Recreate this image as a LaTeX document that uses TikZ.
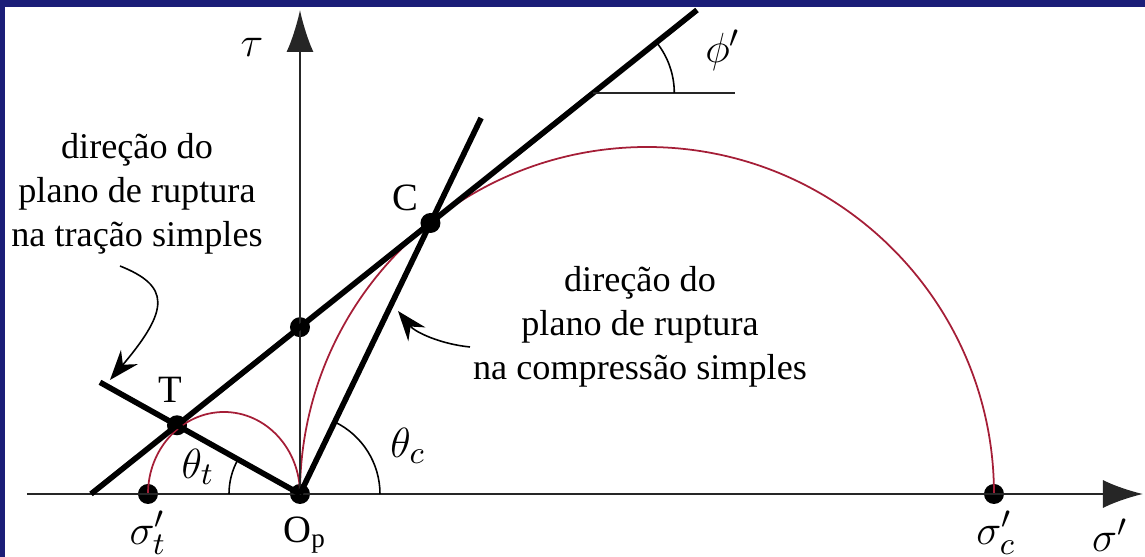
\documentclass[tikz,border=0pt]{standalone}
\usepackage{fontspec}
\setmainfont{Liberation Serif}
\usetikzlibrary{arrows.meta}
\definecolor{framebl}{RGB}{27,30,120}
\definecolor{arcred}{RGB}{165,30,55}
\tikzset{
  axis/.style={line width=0.6pt, black!85},
  envline/.style={line width=1.6pt},
  mohr/.style={arcred, line width=0.5pt},
  angarc/.style={line width=0.45pt},
  kdot/.style={circle, fill, inner sep=0pt, minimum size=2mm},
  lbl/.style={font=\fontsize{11}{13}\selectfont, inner sep=0pt},
  mlbl/.style={font=\fontsize{12.5}{15}\selectfont, inner sep=0pt},
  note/.style={align=center, font=\fontsize{10.3}{12.6}\selectfont},
  pointer/.style={-{Stealth[length=3mm, width=2.2mm, inset=1mm]}, line width=0.45pt},
  axarrow/.style={-{Latex[length=4mm, width=2.8mm]}},
}

\begin{document}
\begin{tikzpicture}
    \useasboundingbox (-3.00,-0.63) rectangle (8.45,4.94);
    \fill[framebl] (-3.00,4.87) rectangle (8.45,4.94);
    \fill[framebl] (-3.00,-0.63) rectangle (-2.95,4.94);
    \coordinate (sx0) at (-2.73,0);
    \coordinate (sx1) at (8.43,0);
    \coordinate (ty1) at (0,4.84);
    \coordinate (envL) at (-2.09,0);
    \coordinate (envR) at (3.97,4.84);
    \coordinate (tEnd) at (-2.00,1.117);
    \coordinate (cEnd) at (1.811,3.76);
    \coordinate (phiO) at (2.933,4.01);
    \coordinate (phiE) at (4.35,4.01);
    \node[kdot] (Op) at (0,0) {};
    \node[kdot] (sigt) at (-1.52,0) {};
    \node[kdot] (sigc) at (6.94,0) {};
    \node[kdot] (Tp) at (-1.23,0.687) {};
    \node[kdot] (Cp) at (1.305,2.71) {};
    \node[kdot] (Ti) at (0,1.668) {};
    \draw[mohr] (sigc.center) arc[start angle=0, end angle=180, radius=3.47];
    \draw[mohr] (Op.center) arc[start angle=0, end angle=180, x radius=0.76, y radius=0.82];
    \draw[axis, axarrow] (sx0) -- (sx1);
    \draw[axis, -{Latex[length=4.2mm, width=2.7mm]}] (Op.center) -- (ty1);
    \draw[envline] (envL) -- (envR);
    \draw[envline] (Op.center) -- (tEnd);
    \draw[envline] (Op.center) -- (cEnd);
    \draw[axis] (phiO) -- (phiE);
    \draw[angarc] (phiO) ++(0:0.81) arc[start angle=0, end angle=38.6, radius=0.81];
    \draw[angarc] (Op.center) ++(180:0.71) arc[start angle=180, end angle=150.8, radius=0.71];
    \draw[angarc] (Op.center) ++(0:0.80) arc[start angle=0, end angle=64.3, radius=0.80];
    \node[mlbl] (tauL) at (-0.48,4.47) {$\tau$};
    \node[mlbl] (phiL) at (4.23,4.44) {$\phi'$};
    \node[lbl] (cL) at (1.05,2.96) {C};
    \node[lbl] (tL) at (-1.30,1.04) {T};
    \node[mlbl] (thtL) at (-1.02,0.27) {$\theta_t$};
    \node[mlbl] (thcL) at (1.08,0.48) {$\theta_c$};
    \node[mlbl] (sigtL) at (-1.52,-0.39) {$\sigma'_t$};
    \node[lbl] (OpL) at (0.05,-0.41) {O$_\mathrm{p}$};
    \node[mlbl] (sigcL) at (6.96,-0.39) {$\sigma'_c$};
    \node[mlbl] (sigL) at (8.10,-0.41) {$\sigma'$};
    \node[note] (tracao) at (-1.63,3.00) {direção do\\plano de ruptura\\na tração simples};
    \node[note] (compr) at (3.40,1.67) {direção do\\plano de ruptura\\na compressão simples};
    \coordinate (pa0) at (-1.80,2.28);
    \coordinate (pa1) at (-1.90,1.14);
    \coordinate (pb0) at (1.70,1.47);
    \coordinate (pb1) at (0.98,1.83);
    \draw[pointer] (pa0) .. controls (-1.30,2.08) and (-1.30,1.85) .. (pa1);
    \draw[pointer] (pb0) .. controls (1.40,1.50) and (1.15,1.62) .. (pb1);
\end{tikzpicture}
\end{document}
